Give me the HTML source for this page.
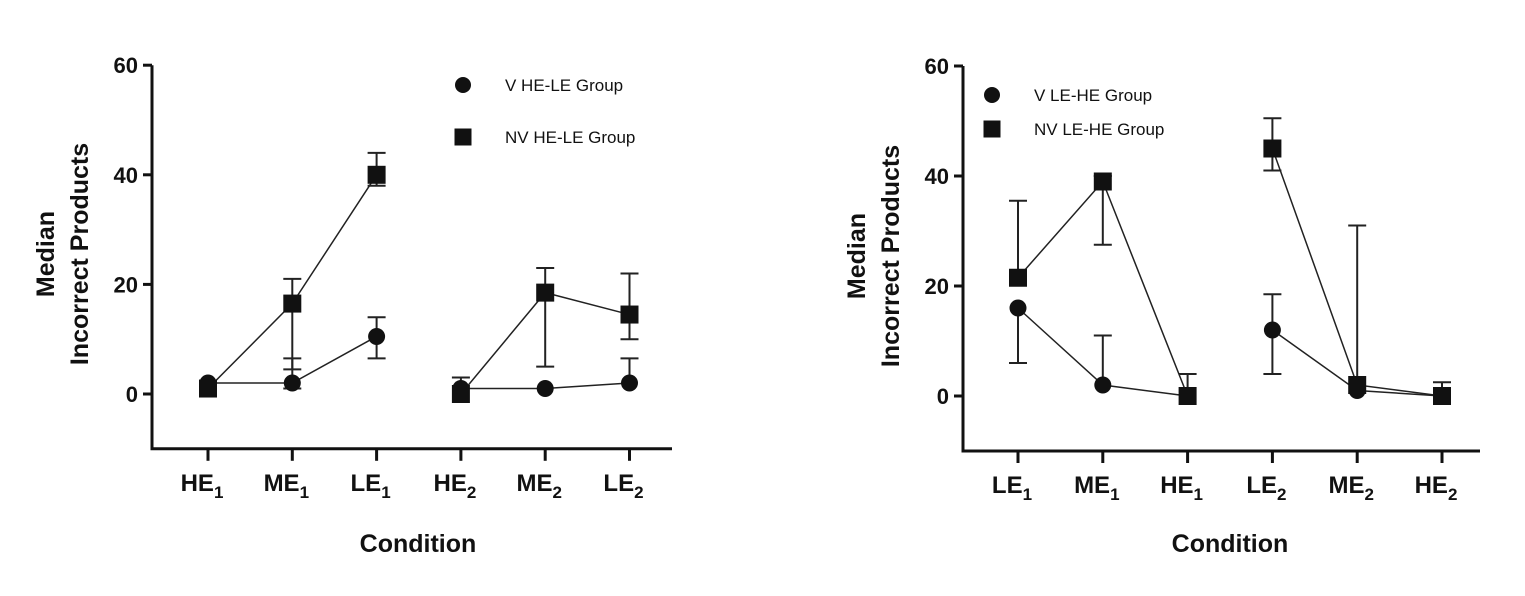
<!DOCTYPE html>
<html><head><meta charset="utf-8"><style>
body{margin:0;background:#fff;width:1525px;height:591px;overflow:hidden}
svg{font-family:"Liberation Sans",Arial,sans-serif}
</style></head><body>
<svg id="svg" width="1525" height="591" xmlns="http://www.w3.org/2000/svg"></svg>
<script>
const leftCats = ["HE","ME","LE","HE","ME","LE"];
const leftSubs = ["1","1","1","2","2","2"];
const leftV = [2,2,10.5,1,1,2];
const leftVLo = [2,1,6.5,1,1,2];
const leftVHi = [2,6.5,14,3,1,6.5];
const leftNV = [1,16.5,40,0,18.5,14.5];
const leftNVLo = [1,4.5,38,0,5,10];
const leftNVHi = [1,21,44,0,23,22];
const rightCats = ["LE","ME","HE","LE","ME","HE"];
const rightSubs = ["1","1","1","2","2","2"];
const rightV = [16,2,0,12,1,0];
const rightVLo = [6,2,0,4,1,0];
const rightVHi = [16,11,0,18.5,1,0];
const rightNV = [21.5,39,0,45,2,0];
const rightNVLo = [21.5,27.5,0,41,2,0];
const rightNVHi = [35.5,40,4,50.5,31,2.5];
const yTicks = [0,20,40,60];

const svg=document.getElementById('svg');
const NS="http://www.w3.org/2000/svg";
function mk(tag,attrs,parent){const e=document.createElementNS(NS,tag);for(const k in attrs)e.setAttribute(k,attrs[k]);(parent||svg).appendChild(e);return e;}

function chart(cfg){
  const g=mk('g',{});
  
  
  const y=v=>cfg.y0-(v)*cfg.ky;
  const x=i=>cfg.x0+i*cfg.dx;
  const bottom=y(-10);
  const ax=mk('path',{d:`M${cfg.ax},${y(60)} V${bottom} H${cfg.axEnd}`,stroke:'#111','stroke-width':3,fill:'none'},g);
  
  
  yTicks.forEach(t=>{
    mk('line',{x1:cfg.ax-9,x2:cfg.ax,y1:y(t),y2:y(t),stroke:'#111','stroke-width':3},g);
    const tx=mk('text',{x:cfg.ax-14,y:y(t)+8,'text-anchor':'end','font-size':22,'font-weight':'bold',fill:'#111'},g);
    tx.textContent=t;
    
    
  });
  cfg.cats.forEach((c,i)=>{
    mk('line',{x1:x(i),x2:x(i),y1:bottom,y2:bottom+12,stroke:'#111','stroke-width':3},g);
    const tx=mk('text',{x:x(i)-6,y:bottom+42,'text-anchor':'middle','font-size':24,'font-weight':'bold',fill:'#111'},g);
    tx.innerHTML=c+'<tspan dy="7" font-size="17">'+cfg.subs[i]+'</tspan>';
    
    
  });
  [[cfg.v,cfg.vlo,cfg.vhi,'circle'],[cfg.nv,cfg.nvlo,cfg.nvhi,'square']].forEach(([vals,lo,hi,shape])=>{
    [[0,1,2],[3,4,5]].forEach(seg=>{
      const l=mk('polyline',{points:seg.map(i=>x(i)+','+y(vals[i])).join(' '),fill:'none',stroke:'#222','stroke-width':1.5},g);
      
      
    });
    vals.forEach((v,i)=>{
      if(hi[i]>v){mk('line',{x1:x(i),x2:x(i),y1:y(v),y2:y(hi[i]),stroke:'#222','stroke-width':2},g);mk('line',{x1:x(i)-9,x2:x(i)+9,y1:y(hi[i]),y2:y(hi[i]),stroke:'#222','stroke-width':2},g);}
      if(lo[i]<v){mk('line',{x1:x(i),x2:x(i),y1:y(v),y2:y(lo[i]),stroke:'#222','stroke-width':2},g);mk('line',{x1:x(i)-9,x2:x(i)+9,y1:y(lo[i]),y2:y(lo[i]),stroke:'#222','stroke-width':2},g);}
      let m;
      if(shape==='circle')m=mk('circle',{cx:x(i),cy:y(v),r:8.5,fill:'#111'},g);
      else m=mk('rect',{x:x(i)-9,y:y(v)-9,width:18,height:18,fill:'#111'},g);
      
      
    });
  });
  const yl=mk('text',{transform:`translate(${cfg.ax-98},${cfg.y0-140}) rotate(-90)`,'text-anchor':'middle','font-size':25,'font-weight':'bold',fill:'#111'},g);
  yl.innerHTML='<tspan x="0" dy="0">Median</tspan><tspan x="0" dy="34">Incorrect Products</tspan>';
  
  
  const xl=mk('text',{x:cfg.xlab,y:552,'text-anchor':'middle','font-size':25,'font-weight':'bold',fill:'#111'},g);
  xl.textContent='Condition';
  
  
  cfg.legend.forEach((t,k)=>{
    const ly=cfg.legY[k];
    if(k===0)mk('circle',{cx:cfg.legX,cy:ly,r:8,fill:'#111'},g);
    else mk('rect',{x:cfg.legX-8.5,y:ly-8.5,width:17,height:17,fill:'#111'},g);
    const lt=mk('text',{x:cfg.legX+42,y:ly+6,'font-size':17,fill:'#111'},g);
    lt.textContent=t;
    
    
  });
}
chart({name:'left-chart',ax:152,axEnd:672,x0:208,dx:84.3,y0:394,ky:5.48,cats:leftCats,subs:leftSubs,
  v:leftV,vlo:leftVLo,vhi:leftVHi,nv:leftNV,nvlo:leftNVLo,nvhi:leftNVHi,xlab:418,
  legend:['V HE-LE Group','NV HE-LE Group'],legX:463,legY:[85,137]});
chart({name:'right-chart',ax:963,axEnd:1480,x0:1018,dx:84.8,y0:396,ky:5.5,cats:rightCats,subs:rightSubs,
  v:rightV,vlo:rightVLo,vhi:rightVHi,nv:rightNV,nvlo:rightNVLo,nvhi:rightNVHi,xlab:1230,
  legend:['V LE-HE Group','NV LE-HE Group'],legX:992,legY:[95,129]});
</script>
</body></html>
